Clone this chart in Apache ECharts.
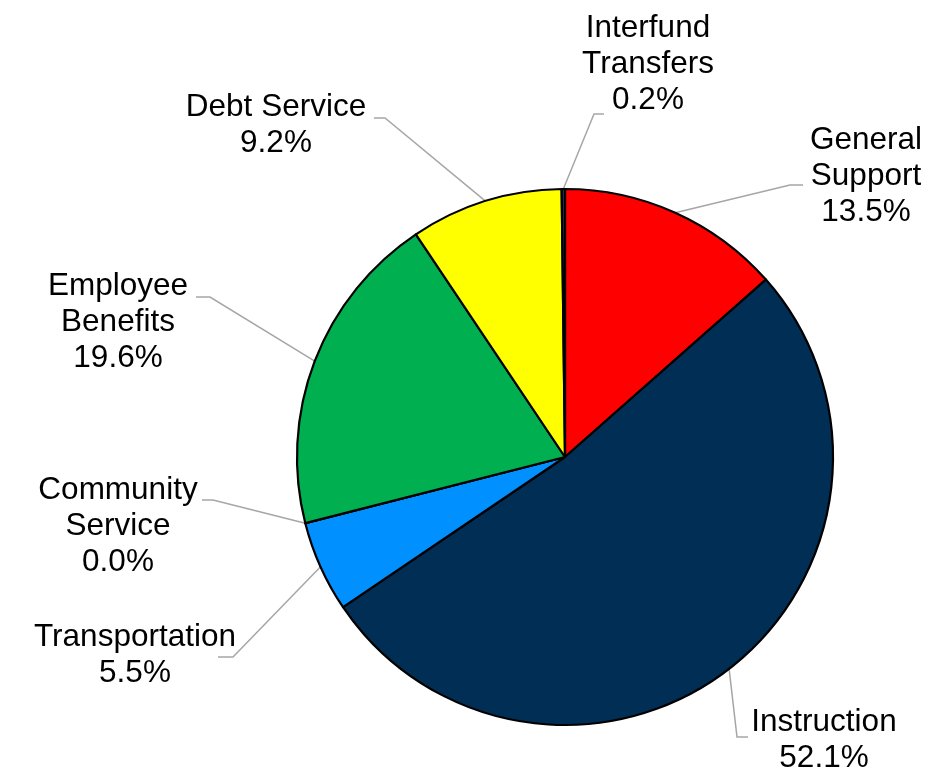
<!DOCTYPE html>
<html>
<head>
<meta charset="utf-8">
<script src="https://cdn.jsdelivr.net/npm/echarts@6/dist/echarts.min.js"></script>
<style>
  html, body { margin: 0; padding: 0; background: #fff; }
  #chart { width: 931px; height: 778px; }
</style>
</head>
<body>
<div id="chart"></div>
<script>
// clockwise from 12 o'clock
var categories = ["General\nSupport", "Instruction", "Transportation", "Community\nService", "Employee\nBenefits", "Debt Service", "Interfund\nTransfers"];
var values = [13.5, 52.1, 5.5, 0.0, 19.6, 9.2, 0.2];
var colors = ["#ff0000", "#002e55", "#0090ff", "#7f7f7f", "#00b050", "#ffff00", "#33285e"];
// label centres and leader line bends
var labelPos = [[866, 176], [824, 740], [135, 655], [118, 526], [118, 322], [276, 125], [648, 64]];
var bends = [
  [[790, 185], [803, 185]],
  [[737, 737], [748, 737]],
  [[233, 657], [218, 657]],
  [[213, 500], [202, 500]],
  [[210, 297], [196, 297]],
  [[385, 118], [374, 118]],
  [[594, 114], [604, 114]]
];

var chart = echarts.init(document.getElementById("chart"));
chart.setOption({
  animation: false,
  series: [{
    type: "pie",
    center: [565, 457],
    radius: 268,
    startAngle: 90,
    clockwise: true,
    data: categories.map(function (c, i) {
      return { name: c, value: values[i], itemStyle: { color: colors[i] } };
    }),
    itemStyle: { borderColor: "#000", borderWidth: 2.2 },
    label: {
      show: true,
      formatter: function (p) { return p.name + "\n" + p.value.toFixed(1) + "%"; },
      fontFamily: "Liberation Sans, Arial, sans-serif",
      fontSize: 31.5,
      lineHeight: 36,
      color: "#000",
      align: "center"
    },
    labelLine: {
      show: true,
      length: 20,
      length2: 10,
      lineStyle: { color: "#a6a6a6", width: 1.5 }
    },
    labelLayout: function (params) {
      var i = params.dataIndex;
      var p = labelPos[i];
      var out = { x: p[0], y: p[1], align: "center", verticalAlign: "middle" };
      if (params.labelLinePoints && params.labelLinePoints[0]) {
        out.labelLinePoints = [params.labelLinePoints[0].slice(), bends[i][0], bends[i][1]];
      }
      return out;
    },
    emphasis: { disabled: true }
  }]
});
</script>
</body>
</html>
